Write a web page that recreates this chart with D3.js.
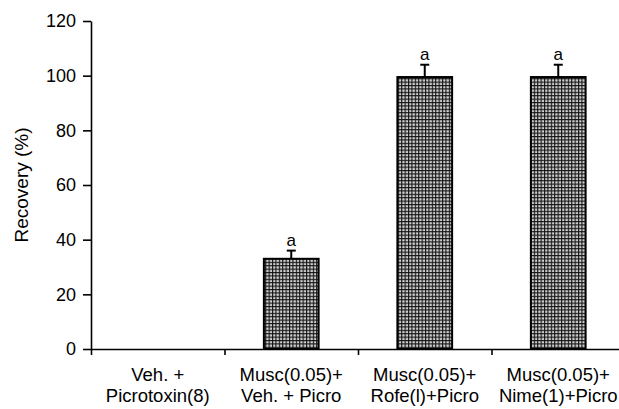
<html>
<head>
<script src="https://cdn.jsdelivr.net/npm/d3@7"></script>
<style>
  body { margin: 0; background: #fff; font-family: 'Liberation Sans', Arial, sans-serif; }
  .axis path, .axis line { stroke: #000; stroke-width: 1.6; }
  .axis text { font-family: 'Liberation Sans', Arial, sans-serif; fill: #000; }
</style>
</head>
<body>
<div id="chart"></div>
<script>
  // data
  const groups = ["g1", "g2", "g3", "g4"]
  const labelsTop = ["Veh. +", "Musc(0.05)+", "Musc(0.05)+", "Musc(0.05)+"]
  const labelsBottom = ["Picrotoxin(8)", "Veh. + Picro", "Rofe(l)+Picro", "Nime(1)+Picro"]
  const recovery = [0, 33, 99.5, 99.5]
  const errors = [0, 3, 4.5, 4.5]
  const marks = ["", "a", "a", "a"]
  const yTicks = [0, 20, 40, 60, 80, 100, 120]

  const width = 619, height = 409
  const svg = d3.select("#chart").append("svg")
    .attr("width", width).attr("height", height)

  // crosshatch fill
  const defs = svg.append("defs")
  const pat = defs.append("pattern").attr("id", "hatch")
    .attr("patternUnits", "userSpaceOnUse")
    .attr("width", 3.4).attr("height", 3.4)
  pat.append("rect").attr("width", 3.4).attr("height", 3.4).attr("fill", "#d0d0d0")
  pat.append("rect").attr("width", 1.1).attr("height", 3.4).attr("fill", "#111")
  pat.append("rect").attr("width", 3.4).attr("height", 1.1).attr("fill", "#111")

  const x = d3.scaleBand().domain(groups).range([91, 625])
    .paddingInner(0.59).paddingOuter(0.295)
  const xEdge = d3.scaleLinear().domain([0, 4]).range([91, 625])
  const y = d3.scaleLinear().domain([0, 120]).range([349, 21])

  // y axis
  const yAxis = svg.append("g").attr("class", "axis")
    .attr("transform", "translate(91,0)")
    .call(d3.axisLeft(y).tickValues(yTicks).tickSize(8).tickSizeOuter(0).tickPadding(7))
  yAxis.selectAll("text").attr("font-size", 18)

  // x axis (ticks at group boundaries)
  svg.append("g").attr("class", "axis")
    .attr("transform", "translate(0,349)")
    .call(d3.axisBottom(xEdge).ticks(4).tickSize(6).tickSizeOuter(0).tickFormat(""))

  // category labels
  const lab = svg.append("g").selectAll("text").data(groups).join("text")
    .attr("text-anchor", "middle")
    .attr("font-size", 18.5)
  lab.append("tspan").attr("x", d => x(d) + x.bandwidth() / 2).attr("y", 381)
    .text((d, i) => labelsTop[i])
  lab.append("tspan").attr("x", d => x(d) + x.bandwidth() / 2).attr("y", 402)
    .text((d, i) => labelsBottom[i])

  // y label
  svg.append("text")
    .attr("transform", "translate(28,185) rotate(-90)")
    .attr("text-anchor", "middle")
    .attr("font-size", 19)
    .text("Recovery (%)")

  // bars
  const bars = svg.append("g").selectAll("g").data(groups).join("g")
  bars.filter((d, i) => recovery[i] > 0).append("rect")
    .attr("x", d => x(d))
    .attr("width", x.bandwidth())
    .attr("y", d => y(recovery[groups.indexOf(d)]))
    .attr("height", d => y(0) - y(recovery[groups.indexOf(d)]))
    .attr("fill", "url(#hatch)")
    .attr("stroke", "#000").attr("stroke-width", 2)

  // error bars (upper only)
  bars.filter((d, i) => errors[i] > 0).each(function (d) {
    const i = groups.indexOf(d)
    const cx = x(d) + x.bandwidth() / 2
    const g = d3.select(this)
    g.append("line").attr("x1", cx).attr("x2", cx)
      .attr("y1", y(recovery[i])).attr("y2", y(recovery[i] + errors[i]))
      .attr("stroke", "#000").attr("stroke-width", 2)
    g.append("line").attr("x1", cx - 4.5).attr("x2", cx + 4.5)
      .attr("y1", y(recovery[i] + errors[i])).attr("y2", y(recovery[i] + errors[i]))
      .attr("stroke", "#000").attr("stroke-width", 2)
    g.append("text").attr("x", cx).attr("y", y(recovery[i] + errors[i]) - 5)
      .attr("text-anchor", "middle").attr("font-size", 17)
      .text(marks[i])
  })
</script>
</body>
</html>
